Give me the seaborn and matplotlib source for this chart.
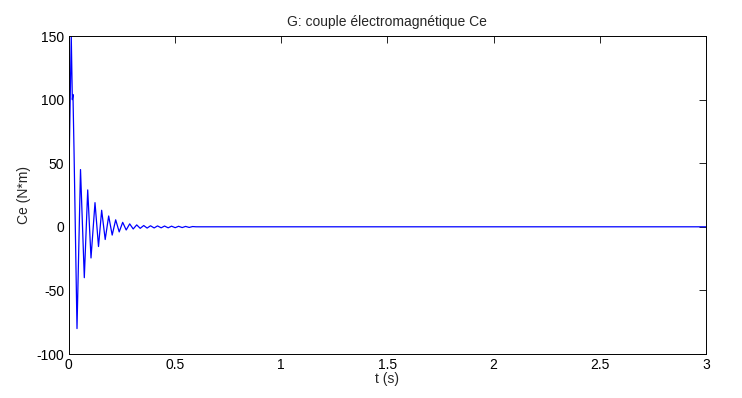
import matplotlib
matplotlib.use("Agg")
import matplotlib.pyplot as plt
import seaborn as sns
import pandas as pd

# Extrema of the electromagnetic torque
t_values = [0.0, 0.004, 0.013, 0.018, 0.021, 0.026, 0.040,
            0.0565, 0.0744, 0.0904, 0.1059, 0.1247, 0.1412, 0.156, 0.1727,
            0.189, 0.2056, 0.222, 0.2386, 0.255, 0.2715, 0.288, 0.3045,
            0.321, 0.3374, 0.354, 0.370, 0.386, 0.403, 0.419, 0.436,
            0.452, 0.469, 0.485, 0.502, 0.518, 0.535, 0.551, 0.568,
            0.584, 0.60, 3.0]
ce_values = [0.0, 60.0, 150.0, 100.0, 104.0, 60.0, -80.0,
             45.0, -40.0, 29.0, -24.5, 19.0, -15.5, 13.0, -10.0,
             8.5, -6.5, 5.5, -4.0, 3.5, -2.5, 2.3, -1.7,
             1.5, -1.2, 1.0, -1.0, 0.8, -0.9, 0.7, -0.8,
             0.6, -0.8, 0.5, -0.7, 0.4, -0.6, 0.3, -0.5,
             0.2, 0.0, 0.0]

x_ticks = [0, 0.5, 1, 1.5, 2, 2.5, 3]
x_tick_labels = ["0", "0.5", "1", "1.5", "2", "2.5", "3"]
y_ticks = [-100, -50, 0, 50, 100, 150]
y_tick_labels = ["-100", "-50", "0", "50", "100", "150"]

df = pd.DataFrame({"t": t_values, "Ce": ce_values})

sns.set_style("white")
plt.rcParams["font.family"] = ["Liberation Sans", "DejaVu Sans"]

fig = plt.figure(figsize=(7.42, 3.98), dpi=100)
ax = fig.add_axes([68.5 / 742, 1 - 354 / 398, (706 - 68.5) / 742, (354 - 36) / 398])

sns.lineplot(data=df, x="t", y="Ce", ax=ax, color="#0000ff", linewidth=0.9,
             sort=False, estimator=None)

ax.set_xlim(0, 3)
ax.set_ylim(-100, 150)
ax.set_xticks(x_ticks)
ax.set_xticklabels(x_tick_labels)
ax.set_yticks(y_ticks)
ax.set_yticklabels(y_tick_labels)
ax.tick_params(direction="in", length=5, width=0.6, top=True, right=True,
               labelsize=10, colors="black", pad=3)
for s in ax.spines.values():
    s.set_visible(True)
    s.set_color("black")
    s.set_linewidth(0.7)

ax.set_xlabel("t (s)", fontsize=10, labelpad=0)
ax.set_ylabel("Ce (N*m)", fontsize=10, labelpad=4)
ax.set_title("G: couple électromagnétique Ce", fontsize=10, pad=7)

fig.savefig("out.png", dpi=100, facecolor="white")
